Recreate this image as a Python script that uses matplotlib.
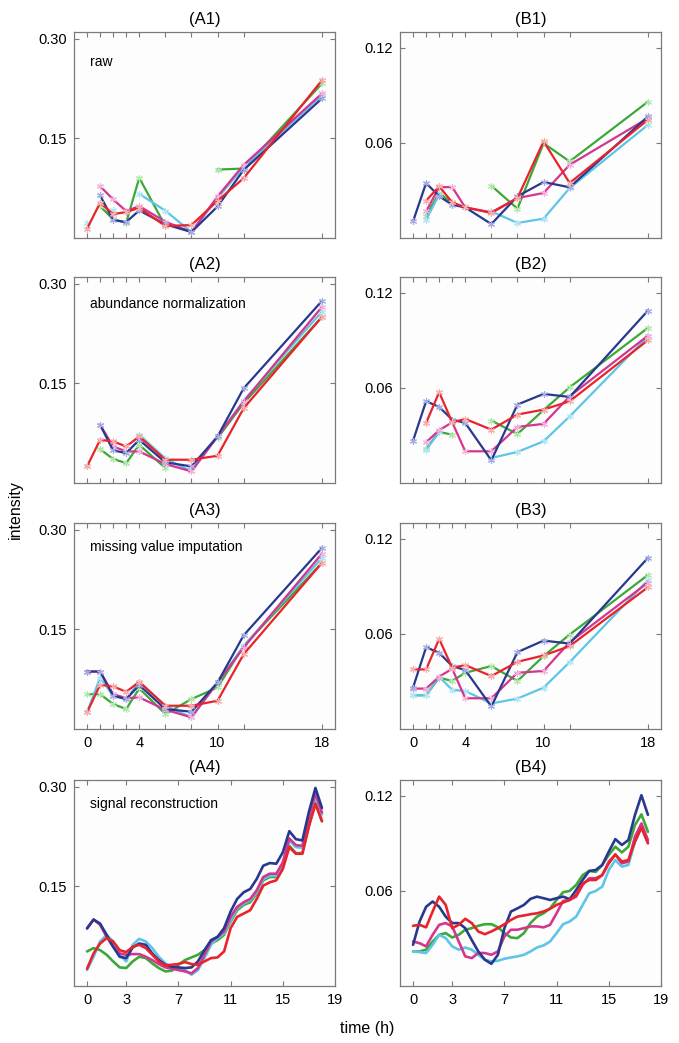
import numpy as np
import matplotlib
matplotlib.use("Agg")
import matplotlib.pyplot as plt

plt.rcParams['font.family'] = ['Liberation Sans', 'DejaVu Sans']

nan = np.nan
T = [0, 1, 2, 3, 4, 6, 8, 10, 12, 18]

# ---- raw (A1) ----
A1_navy = [nan, 0.064, 0.027, 0.024, 0.0415, 0.0205, 0.009, 0.0475, 0.1025, 0.21]
A1_red = [0.014, 0.053, 0.036, 0.039, 0.0455, 0.018, 0.0195, 0.056, 0.09, 0.2375]
A1_magenta = [nan, 0.078, 0.058, 0.0405, 0.048, 0.0245, 0.009, 0.0625, 0.11, 0.2175]
A1_green = [nan, 0.048, 0.028, 0.023, 0.0905, 0.018, nan, 0.103, 0.1045, 0.2325]
A1_cyan = [0.023, nan, 0.0425, nan, 0.0665, 0.041, 0.009, 0.06, 0.107, 0.215]

# ---- abundance normalization (A2) ----
A2_navy = [nan, 0.0875, 0.049, 0.045, 0.065, 0.031, 0.025, 0.07, 0.1425, 0.274]
A2_red = [0.025, 0.065, 0.0625, 0.055, 0.07, 0.035, 0.035, 0.041, 0.1125, 0.25]
A2_magenta = [nan, 0.0875, 0.055, 0.0475, 0.0475, 0.0285, 0.0175, 0.07, 0.1225, 0.265]
A2_green = [nan, 0.051, 0.036, 0.03, 0.0575, 0.0225, nan, 0.0675, 0.12, 0.25]
A2_cyan = [0.025, nan, 0.05, nan, 0.0725, 0.037, 0.0175, 0.07, 0.124, 0.258]

# ---- missing value imputation (A3) ----
A3_navy = [0.0865, 0.0865, 0.05, 0.045, 0.066, 0.03, 0.026, 0.07, 0.141, 0.2725]
A3_red = [0.025, 0.0665, 0.064, 0.056, 0.071, 0.035, 0.035, 0.0425, 0.1125, 0.25]
A3_magenta = [0.0865, 0.0865, 0.0525, 0.0465, 0.0475, 0.029, 0.0175, 0.07, 0.1225, 0.264]
A3_green = [0.0525, 0.0525, 0.0375, 0.03, 0.061, 0.0225, 0.045, 0.0625, 0.125, 0.25]
A3_cyan = [0.025, 0.0775, 0.05, 0.045, 0.071, 0.035, 0.0175, 0.07, 0.125, 0.2575]

# ---- raw (B1) ----
B1_navy = [0.0105, 0.0347, 0.0263, 0.021, 0.0193, 0.0088, 0.0263, 0.0353, 0.032, 0.0767]
B1_red = [nan, 0.0235, 0.0326, 0.0225, 0.0193, 0.0158, 0.0252, 0.061, 0.0347, 0.0746]
B1_magenta = [nan, 0.0168, 0.0321, 0.0321, 0.0193, 0.0162, 0.0252, 0.0284, 0.0462, 0.0756]
B1_green = [nan, 0.0141, 0.0284, 0.022, nan, 0.033, 0.0185, 0.0598, 0.0483, 0.086]
B1_cyan = [nan, 0.0116, 0.0273, nan, nan, 0.0168, 0.0095, 0.0122, 0.0315, 0.0714]

# ---- abundance normalization (B2) ----
B2_navy = [0.0267, 0.0516, 0.048, 0.04, 0.0379, 0.0143, 0.0495, 0.0562, 0.0543, 0.1088]
B2_red = [nan, 0.0379, 0.0573, 0.0383, 0.0404, 0.0337, 0.0432, 0.0463, 0.0516, 0.0901]
B2_magenta = [nan, 0.0257, 0.0333, 0.0383, 0.02, 0.02, 0.0354, 0.0373, 0.0547, 0.093]
B2_green = [nan, 0.0217, 0.0322, 0.0305, nan, 0.0394, 0.0309, 0.046, 0.0604, 0.0979]
B2_cyan = [nan, 0.021, 0.0322, nan, nan, 0.0158, 0.0196, 0.0263, 0.042, 0.0926]

# ---- missing value imputation (B3) ----
B3_navy = [0.0261, 0.0516, 0.0481, 0.0397, 0.0372, 0.0142, 0.0485, 0.0558, 0.0539, 0.108]
B3_red = [0.0376, 0.0376, 0.0568, 0.0387, 0.0403, 0.0334, 0.0424, 0.0464, 0.0523, 0.0895]
B3_magenta = [0.0255, 0.0255, 0.033, 0.038, 0.0194, 0.0194, 0.0355, 0.0366, 0.0548, 0.0924]
B3_green = [0.0213, 0.0213, 0.0324, 0.0303, 0.0355, 0.0397, 0.0303, 0.046, 0.0596, 0.0972]
B3_cyan = [0.0213, 0.0213, 0.033, 0.0247, 0.024, 0.0161, 0.0192, 0.0261, 0.0422, 0.094]

# ---- signal reconstruction, read every 0.5 h (A4, B4) ----
TS = [0, 0.5, 1, 1.5, 2, 2.5, 3, 3.5, 4, 4.5, 5, 5.5, 6, 6.5, 7, 7.5, 8, 8.5, 9,
      9.5, 10, 10.5, 11, 11.5, 12, 12.5, 13, 13.5, 14, 14.5, 15, 15.5, 16, 16.5,
      17, 17.5, 18]

A4_navy = [0.0867, 0.100, 0.094, 0.077, 0.059, 0.044, 0.042, 0.058, 0.064, 0.062,
           0.049, 0.039, 0.032, 0.029, 0.028, 0.027, 0.028, 0.037, 0.054, 0.069,
           0.074, 0.087, 0.112, 0.131, 0.141, 0.146, 0.161, 0.181, 0.185, 0.184,
           0.201, 0.233, 0.221, 0.219, 0.262, 0.298, 0.268]
A4_red = [0.026, 0.049, 0.064, 0.072, 0.067, 0.054, 0.051, 0.059, 0.062, 0.057,
          0.047, 0.037, 0.031, 0.032, 0.033, 0.036, 0.033, 0.032, 0.037, 0.042,
          0.043, 0.052, 0.087, 0.104, 0.109, 0.114, 0.131, 0.151, 0.156, 0.159,
          0.176, 0.209, 0.199, 0.199, 0.240, 0.274, 0.248]
A4_magenta = [0.0867, 0.100, 0.092, 0.074, 0.059, 0.049, 0.047, 0.048, 0.048, 0.044,
              0.039, 0.033, 0.028, 0.026, 0.024, 0.022, 0.019, 0.027, 0.047, 0.067,
              0.074, 0.082, 0.104, 0.119, 0.126, 0.131, 0.144, 0.164, 0.169, 0.169,
              0.186, 0.222, 0.212, 0.211, 0.254, 0.290, 0.261]
A4_green = [0.052, 0.057, 0.054, 0.047, 0.037, 0.028, 0.027, 0.037, 0.044, 0.042,
            0.034, 0.027, 0.022, 0.023, 0.032, 0.039, 0.043, 0.047, 0.054, 0.064,
            0.069, 0.077, 0.097, 0.114, 0.122, 0.126, 0.139, 0.159, 0.164, 0.164,
            0.181, 0.211, 0.200, 0.200, 0.242, 0.276, 0.248]
A4_cyan = [0.024, 0.044, 0.067, 0.077, 0.067, 0.047, 0.037, 0.062, 0.071, 0.067,
           0.057, 0.044, 0.034, 0.029, 0.026, 0.024, 0.017, 0.024, 0.042, 0.062,
           0.072, 0.079, 0.099, 0.117, 0.124, 0.129, 0.141, 0.161, 0.166, 0.166,
           0.184, 0.219, 0.209, 0.208, 0.250, 0.285, 0.258]

B4_navy = [0.026, 0.0407, 0.050, 0.0533, 0.050, 0.0438, 0.0397, 0.0397, 0.0365, 0.029,
           0.0218, 0.0166, 0.014, 0.0197, 0.0365, 0.047, 0.049, 0.0512, 0.055, 0.0564,
           0.0554, 0.0543, 0.0554, 0.0564, 0.0548, 0.0606, 0.067, 0.0726, 0.0732, 0.0764,
           0.0848, 0.0927, 0.089, 0.0921, 0.1078, 0.1204, 0.108]
B4_red = [0.038, 0.0386, 0.037, 0.047, 0.0564, 0.0512, 0.0365, 0.0386, 0.0424, 0.0397,
          0.0344, 0.0327, 0.0344, 0.0365, 0.039, 0.0417, 0.0438, 0.0445, 0.0453, 0.0459,
          0.047, 0.0487, 0.0512, 0.0527, 0.0543, 0.0575, 0.0648, 0.0669, 0.0669, 0.070,
          0.0774, 0.083, 0.0785, 0.0795, 0.091, 0.0999, 0.090]
B4_magenta = [0.0281, 0.027, 0.025, 0.0323, 0.0386, 0.0397, 0.0376, 0.0281, 0.0187, 0.0176,
              0.0208, 0.0208, 0.0197, 0.0218, 0.0313, 0.0355, 0.0355, 0.0365, 0.0376, 0.0376,
              0.037, 0.0386, 0.0459, 0.0537, 0.0543, 0.0564, 0.0638, 0.068, 0.068, 0.070,
              0.0785, 0.083, 0.0774, 0.0785, 0.0942, 0.1026, 0.0921]
B4_green = [0.0218, 0.0218, 0.0229, 0.028, 0.0323, 0.0334, 0.0306, 0.0323, 0.0355, 0.0365,
            0.038, 0.039, 0.039, 0.0371, 0.0334, 0.0306, 0.0302, 0.0334, 0.0397, 0.0438,
            0.0459, 0.049, 0.0543, 0.0592, 0.060, 0.0638, 0.070, 0.0726, 0.072, 0.0764,
            0.0827, 0.0879, 0.0843, 0.0879, 0.1015, 0.1083, 0.0973]
B4_cyan = [0.0218, 0.0214, 0.0208, 0.026, 0.0323, 0.0302, 0.025, 0.0229, 0.0243, 0.0229,
           0.0197, 0.0166, 0.0155, 0.0159, 0.0172, 0.018, 0.0187, 0.0197, 0.0218, 0.0243,
           0.0256, 0.0281, 0.0334, 0.039, 0.0407, 0.0438, 0.0512, 0.0585, 0.060, 0.0627,
           0.0732, 0.0795, 0.0753, 0.0764, 0.091, 0.1005, 0.091]

line_colors = {"navy": "#27398f", "red": "#e8232b", "magenta": "#d4358f",
               "green": "#3da83a", "cyan": "#5ec5e6"}
marker_colors = {"navy": "#a3aae6", "red": "#f7acac", "magenta": "#f2b0de",
                 "green": "#b0e8aa", "cyan": "#b0e6f4"}
draw_order = ["green", "cyan", "magenta", "navy", "red"]

panels_A = [("(A1)", "raw", dict(navy=A1_navy, red=A1_red, magenta=A1_magenta, green=A1_green, cyan=A1_cyan)),
            ("(A2)", "abundance normalization", dict(navy=A2_navy, red=A2_red, magenta=A2_magenta, green=A2_green, cyan=A2_cyan)),
            ("(A3)", "missing value imputation", dict(navy=A3_navy, red=A3_red, magenta=A3_magenta, green=A3_green, cyan=A3_cyan)),
            ("(A4)", "signal reconstruction", dict(navy=A4_navy, red=A4_red, magenta=A4_magenta, green=A4_green, cyan=A4_cyan))]
panels_B = [("(B1)", dict(navy=B1_navy, red=B1_red, magenta=B1_magenta, green=B1_green, cyan=B1_cyan)),
            ("(B2)", dict(navy=B2_navy, red=B2_red, magenta=B2_magenta, green=B2_green, cyan=B2_cyan)),
            ("(B3)", dict(navy=B3_navy, red=B3_red, magenta=B3_magenta, green=B3_green, cyan=B3_cyan)),
            ("(B4)", dict(navy=B4_navy, red=B4_red, magenta=B4_magenta, green=B4_green, cyan=B4_cyan))]

W, H = 679, 1043
fig = plt.figure(figsize=(W / 100, H / 100), dpi=100)

row_tops = [32, 277, 523, 780]
ax_h = 206
col_left = [74, 400]
ax_w = 261
label_y = [0.855, 0.868, 0.882, 0.883]


def style_axes(ax, row, ymax, yticks):
    ax.set_xlim(-1, 19)
    ax.set_ylim(0, ymax)
    ax.set_facecolor("#fdfdfd")
    for s in ax.spines.values():
        s.set_color("#7a7a7a")
        s.set_linewidth(0.9)
    ax.tick_params(direction="in", top=True, right=True, length=3.5, width=0.8,
                   color="#7a7a7a", labelsize=10.5, pad=5)
    ax.set_yticks(yticks)
    ax.set_yticklabels(["%.2f" % v for v in yticks])
    if row < 3:
        ax.set_xticks(T)
        if row == 2:
            ax.set_xticklabels(["0", "", "", "", "4", "", "", "10", "", "18"])
        else:
            ax.set_xticklabels([])
    else:
        ax.set_xticks([0, 3, 7, 11, 15, 19])
        ax.set_xticklabels(["0", "3", "7", "11", "15", "19"])


for col in range(2):
    for row in range(4):
        left = col_left[col] / W
        bottom = 1 - (row_tops[row] + ax_h) / H
        ax = fig.add_axes([left, bottom, ax_w / W, ax_h / H])
        if col == 0:
            title, note, data = panels_A[row]
            style_axes(ax, row, 0.31, [0.15, 0.30])
            ax.text(0.062, label_y[row], note, transform=ax.transAxes,
                    fontsize=10, va="center", ha="left")
        else:
            title, data = panels_B[row]
            style_axes(ax, row, 0.13, [0.06, 0.12])
        ax.set_title(title, fontsize=12, pad=6)
        for name in draw_order:
            if row < 3:
                ax.plot(T, data[name], color=line_colors[name], lw=1.6,
                        marker=(6, 2, 0), markersize=5, markeredgewidth=0.8,
                        markeredgecolor=marker_colors[name], zorder=3)
            else:
                ax.plot(TS, data[name], color=line_colors[name], lw=1.9,
                        solid_capstyle="round", solid_joinstyle="round", zorder=3)

fig.text(15 / W, 1 - 510 / H, "intensity", rotation=90, fontsize=11.5,
         ha="center", va="center")
fig.text(367 / W, 1 - 1029 / H, "time (h)", fontsize=11.5, ha="center", va="center")

fig.savefig("out.png", dpi=100, facecolor="white")
